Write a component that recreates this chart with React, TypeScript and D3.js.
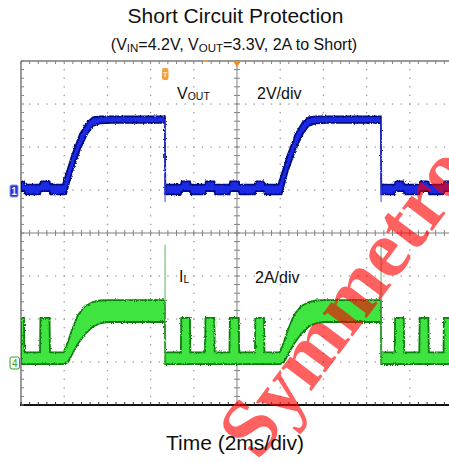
import React from "react";
import * as d3 from "d3";

// ---- Data (time in ms, 2 ms/div; VOUT in V, 2 V/div; IL in A, 2 A/div) ----
const vTime = [
  0, 0.14, 0.18, 0.88, 0.92, 1.32, 1.36, 1.94, 2.08, 2.36, 2.73, 3.06, 3.33, 3.66, 4.2, 6.66,
  6.68, 7.4, 7.44, 7.82, 7.86, 8.52, 8.56, 8.95, 8.99, 9.65, 9.69, 10.08, 10.12, 10.83, 10.87, 11.25, 11.29,
  11.92, 12.06, 12.34, 12.71, 13.04, 13.31, 13.64, 14.2, 16.66,
  16.68, 17.3, 17.34, 17.72, 17.76, 18.44, 18.48, 18.86, 18.9, 19.56, 19.6, 20,
];
const vUpper = [
  0.4, 0.4, 0.25, 0.25, 0.4, 0.4, 0.25, 0.25, 0.7, 1.6, 2.6, 3.15, 3.38, 3.42, 3.42, 3.42,
  0.25, 0.25, 0.4, 0.4, 0.25, 0.25, 0.4, 0.4, 0.25, 0.25, 0.4, 0.4, 0.25, 0.25, 0.4, 0.4, 0.25,
  0.25, 0.7, 1.6, 2.6, 3.15, 3.38, 3.42, 3.42, 3.42,
  0.25, 0.25, 0.4, 0.4, 0.25, 0.25, 0.4, 0.4, 0.25, 0.25, 0.4, 0.4,
];
const vLower = [
  -0.05, -0.05, -0.2, -0.2, -0.05, -0.05, -0.2, -0.2, -0.2, 0.85, 1.9, 2.6, 2.98, 3.1, 3.12, 3.12,
  -0.2, -0.2, -0.05, -0.05, -0.2, -0.2, -0.05, -0.05, -0.2, -0.2, -0.05, -0.05, -0.2, -0.2, -0.05, -0.05, -0.2,
  -0.2, -0.2, 0.85, 1.9, 2.6, 2.98, 3.1, 3.12, 3.12,
  -0.2, -0.2, -0.05, -0.05, -0.2, -0.2, -0.05, -0.05, -0.2, -0.2, -0.05, -0.05,
];

const iTime = [
  0, 0.14, 0.16, 0.88, 0.9, 1.32, 1.34, 1.97, 1.99, 2.18, 2.36, 2.64, 2.96, 3.33, 3.66, 4.03, 6.66,
  6.68, 7.4, 7.42, 7.82, 7.84, 8.52, 8.54, 8.95, 8.97, 9.65, 9.67, 10.08, 10.1, 10.83, 10.85, 11.25, 11.27,
  11.97, 11.99, 12.18, 12.36, 12.64, 12.96, 13.33, 13.66, 14.03, 16.66,
  16.68, 17.3, 17.32, 17.72, 17.74, 18.44, 18.46, 18.86, 18.88, 19.56, 19.58, 20,
];
const iUpper = [
  2.05, 2.05, 0.45, 0.45, 2.05, 2.05, 0.45, 0.45, 0.5, 0.95, 1.5, 2.19, 2.6, 2.79, 2.86, 2.88, 2.88,
  0.45, 0.45, 2.05, 2.05, 0.45, 0.45, 2.05, 2.05, 0.45, 0.45, 2.05, 2.05, 0.45, 0.45, 2.05, 2.05, 0.45,
  0.45, 0.5, 0.95, 1.5, 2.19, 2.6, 2.79, 2.86, 2.88, 2.88,
  0.45, 0.45, 2.05, 2.05, 0.45, 0.45, 2.05, 2.05, 0.45, 0.45, 2.05, 2.05,
];
const iLower = [
  -0.1, -0.1, -0.1, -0.1, -0.1, -0.1, -0.1, -0.1, -0.1, 0.0, 0.35, 0.85, 1.3, 1.65, 1.8, 1.86, 1.86,
  -0.1, -0.1, -0.1, -0.1, -0.1, -0.1, -0.1, -0.1, -0.1, -0.1, -0.1, -0.1, -0.1, -0.1, -0.1, -0.1, -0.1,
  -0.1, -0.1, 0.0, 0.35, 0.85, 1.3, 1.65, 1.8, 1.86, 1.86,
  -0.1, -0.1, -0.1, -0.1, -0.1, -0.1, -0.1, -0.1, -0.1, -0.1, -0.1, -0.1,
];

const fallTimes = [6.67, 16.67];
const vFallTop = [3.3, 3.3];
const vFallBottom = [-0.56, -0.56];
const iSpikeTop = [5.45, 5.45];
const iSpikeBottom = [-0.1, -0.1];

const titleText = "Short Circuit Protection";
const xLabel = "Time (2ms/div)";
const vLabelMain = "V";
const vLabelSub = "OUT";
const vScaleLabel = "2V/div";
const iLabelMain = "I";
const iLabelSub = "L";
const iScaleLabel = "2A/div";
const watermark = "Symmetro";

// ---- Layout ----
const W = 449;
const H = 462;
const X0 = 21;
const Y0 = 61;
const DX = 43.2;
const DY = 43;
const NX = 10;
const NY = 8;
const FONT = "'Liberation Sans', Arial, sans-serif";

export default function App() {
  const x = d3.scaleLinear().domain([0, 20]).range([X0, X0 + NX * DX]);
  const xDiv = d3.scaleLinear().domain([0, NX]).range([X0, X0 + NX * DX]);
  const yDiv = d3.scaleLinear().domain([0, NY]).range([Y0, Y0 + NY * DY]);
  const yV = d3.scaleLinear().domain([6, -10]).range([Y0, Y0 + NY * DY]);
  const yI = d3.scaleLinear().domain([14, -2]).range([Y0, Y0 + NY * DY]);

  const vArea = d3
    .area<number>()
    .x((d) => x(vTime[d]))
    .y0((d) => yV(vLower[d]))
    .y1((d) => yV(vUpper[d]));
  const iArea = d3
    .area<number>()
    .x((d) => x(iTime[d]))
    .y0((d) => yI(iLower[d]))
    .y1((d) => yI(iUpper[d]));
  const vIdx = vTime.map((_, k) => k);
  const iIdx = iTime.map((_, k) => k);

  const minorX: number[] = [];
  for (let m = 0; m <= NX * 5; m++) minorX.push(m / 5);
  const minorY: number[] = [];
  for (let m = 0; m <= NY * 5; m++) minorY.push(m / 5);

  const gridDots: JSX.Element[] = [];
  for (let k = 1; k < NX; k++) {
    if (k === 5) continue;
    minorY.forEach((m, j) => {
      if (j === 0 || j === minorY.length - 1) return;
      gridDots.push(
        <rect key={`gv${k}-${j}`} x={xDiv(k) - 0.6} y={yDiv(m) - 0.6} width={1.3} height={1.3} fill="#9a9a9a" />
      );
    });
  }
  for (let j = 1; j < NY; j++) {
    if (j === 4) continue;
    minorX.forEach((m, k) => {
      if (k === 0) return;
      gridDots.push(
        <rect key={`gh${j}-${k}`} x={xDiv(m) - 0.6} y={yDiv(j) - 0.6} width={1.3} height={1.3} fill="#9a9a9a" />
      );
    });
  }

  const ticks: JSX.Element[] = [];
  minorX.forEach((m, k) => {
    const px = xDiv(m);
    ticks.push(<line key={`tt${k}`} x1={px} x2={px} y1={yDiv(0)} y2={yDiv(0) + 3} stroke="#808080" strokeWidth={1} />);
    ticks.push(<line key={`tb${k}`} x1={px} x2={px} y1={yDiv(NY)} y2={yDiv(NY) - 3} stroke="#333" strokeWidth={1} />);
    ticks.push(<line key={`tc${k}`} x1={px} x2={px} y1={yDiv(4) - 3} y2={yDiv(4) + 3} stroke="#808080" strokeWidth={1} />);
  });
  minorY.forEach((m, k) => {
    const py = yDiv(m);
    ticks.push(<line key={`tl${k}`} x1={xDiv(0)} x2={xDiv(0) + 3} y1={py} y2={py} stroke="#808080" strokeWidth={1} />);
    ticks.push(<line key={`tm${k}`} x1={xDiv(5) - 3} x2={xDiv(5) + 3} y1={py} y2={py} stroke="#808080" strokeWidth={1} />);
  });

  return (
    <svg width={W} height={H} style={{ position: "absolute", left: 0, top: 0, background: "#fff" }}>
      <defs>
        <filter id="noisy" x="-5%" y="-20%" width="110%" height="140%">
          <feTurbulence type="fractalNoise" baseFrequency="0.9 0.6" numOctaves={1} seed={4} result="n" />
          <feDisplacementMap in="SourceGraphic" in2="n" scale={3} xChannelSelector="R" yChannelSelector="G" />
        </filter>
        <clipPath id="plotClip">
          <rect x={X0} y={Y0} width={NX * DX} height={NY * DY} />
        </clipPath>
      </defs>
      <rect x={0} y={0} width={W} height={H} fill="#fff" />

      {/* grid */}
      <g>{gridDots}</g>
      {/* center cross */}
      <line x1={xDiv(0)} x2={xDiv(NX)} y1={yDiv(4)} y2={yDiv(4)} stroke="#808080" strokeWidth={1} />
      <line x1={xDiv(5)} x2={xDiv(5)} y1={yDiv(0)} y2={yDiv(NY)} stroke="#808080" strokeWidth={1} />
      {/* frame */}
      <line x1={xDiv(0)} x2={xDiv(NX)} y1={yDiv(0)} y2={yDiv(0)} stroke="#7a7a7a" strokeWidth={1.5} />
      <line x1={xDiv(0)} x2={xDiv(0)} y1={yDiv(0)} y2={yDiv(NY)} stroke="#7a7a7a" strokeWidth={1.5} />
      <line x1={xDiv(0) - 1} x2={xDiv(NX)} y1={yDiv(NY)} y2={yDiv(NY)} stroke="#111" strokeWidth={2} />
      <g>{ticks}</g>

      {/* traces */}
      <g clipPath="url(#plotClip)">
        <g filter="url(#noisy)">
          <path d={vArea(vIdx) || ""} fill="#1a2ae6" stroke="#000a80" strokeWidth={1.8} />
          <path d={iArea(iIdx) || ""} fill="#3fe43f" stroke="#0a7e0a" strokeWidth={1.8} />
        </g>
        {fallTimes.map((t, k) => (
          <g key={`f${k}`}>
            <line x1={x(t)} x2={x(t)} y1={yV(vFallTop[k])} y2={yV(vFallBottom[k])} stroke="#3848f0" strokeWidth={1} />
            <line x1={x(t)} x2={x(t)} y1={yI(iSpikeTop[k])} y2={yI(iSpikeBottom[k])} stroke="#55b855" strokeWidth={1} />
          </g>
        ))}
      </g>

      {/* channel labels */}
      <text x={177} y={99} fontFamily={FONT} fontSize={16} fill="#111">
        {vLabelMain}
        <tspan fontSize={10.5} dy={1}>{vLabelSub}</tspan>
      </text>
      <text x={257} y={99} fontFamily={FONT} fontSize={16} fill="#111">{vScaleLabel}</text>
      <text x={179} y={282} fontFamily={FONT} fontSize={16} fill="#111">
        {iLabelMain}
        <tspan fontSize={10.5} dy={1}>{iLabelSub}</tspan>
      </text>
      <text x={255} y={283} fontFamily={FONT} fontSize={16} fill="#111">{iScaleLabel}</text>

      {/* markers */}
      <rect x={162} y={68} width={6.5} height={12} rx={2} fill="#f2a23a" />
      <text x={165.2} y={77} textAnchor="middle" fontFamily={FONT} fontSize={8} fontWeight="bold" fill="#ffe6b8">T</text>
      <path d={`M${xDiv(5) - 4},${Y0} L${xDiv(5) + 4},${Y0} L${xDiv(5)},${Y0 + 6} Z`} fill="#f08c10" />
      <line x1={203} x2={208} y1={Y0} y2={Y0} stroke="#f0a040" strokeWidth={1.5} />
      <rect x={10} y={185} width={8} height={12} rx={1.5} fill="#2434d8" stroke="#8a94f0" strokeWidth={1} />
      <text x={14} y={195} textAnchor="middle" fontFamily={FONT} fontSize={10} fontWeight="bold" fill="#e8ecff">1</text>
      <rect x={10} y={357} width={9.5} height={12} rx={2} fill="#ffffff" stroke="#2aa02a" strokeWidth={1} />
      <text x={14.8} y={367} textAnchor="middle" fontFamily={FONT} fontSize={10} fill="#2aa02a">4</text>

      {/* watermark */}
      <text
        transform="translate(258,462) rotate(-53)"
        fontFamily="'Liberation Serif', 'Times New Roman', serif"
        fontSize={82}
        fontWeight="bold"
        fill="#ff0000"
        opacity={0.62}
      >
        {watermark}
      </text>

      {/* titles */}
      <text x={235.5} y={23} textAnchor="middle" fontFamily={FONT} fontSize={21} fill="#111">{titleText}</text>
      <text x={234} y={50} textAnchor="middle" fontFamily={FONT} fontSize={16} fill="#111">
        (V<tspan fontSize={11.5} dy={1.5}>IN</tspan>
        <tspan dy={-1.5}>=4.2V, V</tspan>
        <tspan fontSize={11.5} dy={1.5}>OUT</tspan>
        <tspan dy={-1.5}>=3.3V, 2A to Short)</tspan>
      </text>
      <text x={235} y={450} textAnchor="middle" fontFamily={FONT} fontSize={21} fill="#111">{xLabel}</text>
    </svg>
  );
}
